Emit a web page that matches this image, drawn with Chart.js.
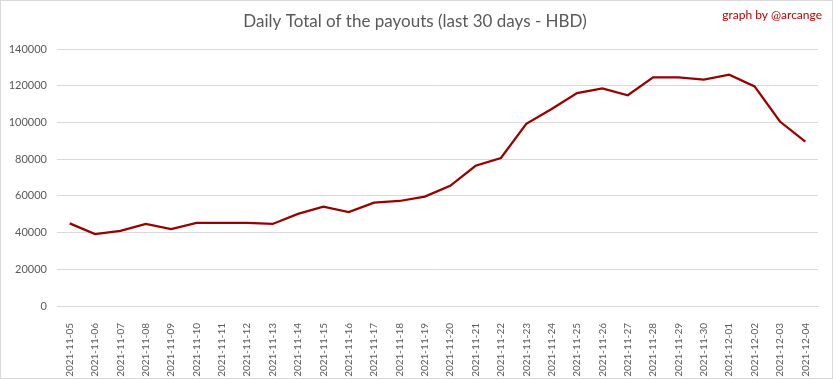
<!doctype html>
<html lang="en">
  <head>
    <meta charset="utf-8">
    <title>Daily Total of the payouts</title>
    <script src="https://cdn.jsdelivr.net/npm/chart.js@4.4.0/dist/chart.umd.min.js"></script>
    <style>
      html, body { margin: 0; padding: 0; background: #fff; }
      #wrap { position: relative; width: 833px; height: 379px; }
    </style>
  </head>
  <body>
    <div id="wrap"><canvas id="chart"></canvas></div>

    <script>
      const days = [
        "2021-11-05", "2021-11-06", "2021-11-07", "2021-11-08", "2021-11-09", "2021-11-10",
        "2021-11-11", "2021-11-12", "2021-11-13", "2021-11-14", "2021-11-15", "2021-11-16",
        "2021-11-17", "2021-11-18", "2021-11-19", "2021-11-20", "2021-11-21", "2021-11-22",
        "2021-11-23", "2021-11-24", "2021-11-25", "2021-11-26", "2021-11-27", "2021-11-28",
        "2021-11-29", "2021-11-30", "2021-12-01", "2021-12-02", "2021-12-03", "2021-12-04"
      ];
      const payouts = [
        45000, 39200, 40900, 44700, 41900, 45300,
        45300, 45300, 44700, 50200, 54100, 51200,
        56300, 57200, 59600, 65500, 76400, 80600,
        99200, 107300, 116000, 118500, 114800, 124500,
        124500, 123300, 126000, 119600, 100500, 89600
      ];
      const yTicks = [0, 20000, 40000, 60000, 80000, 100000, 120000, 140000];

      const titleText = "Daily Total of the payouts (last 30 days - HBD)";
      const creditText = "graph by @arcange";
      const font = "Lato, 'Open Sans', sans-serif";

      // title, credit and outer frame
      const decor = {
        id: "decor",
        afterDraw(chart) {
          const ctx = chart.ctx;
          ctx.save();
          ctx.strokeStyle = "#d9d9d9";
          ctx.lineWidth = 1;
          ctx.strokeRect(0.5, 0.5, chart.width - 1, chart.height - 1);
          ctx.textBaseline = "middle";
          ctx.fillStyle = "#595959";
          ctx.font = "17px " + font;
          ctx.textAlign = "center";
          ctx.fillText(titleText, 415, 22);
          ctx.fillStyle = "#c00000";
          ctx.font = "12px " + font;
          ctx.textAlign = "right";
          ctx.fillText(creditText, 822, 15);
          ctx.restore();
        }
      };

      new Chart(document.getElementById("chart").getContext("2d"), {
        type: "line",
        data: {
          labels: days,
          datasets: [{
            label: "Payouts",
            data: payouts,
            borderColor: "#990000",
            borderWidth: 2.25,
            pointRadius: 0,
            tension: 0,
            fill: false
          }]
        },
        options: {
          responsive: true,
          maintainAspectRatio: false,
          animation: false,
          layout: { padding: { top: 49, right: 15, left: 0, bottom: 0 } },
          plugins: {
            legend: { display: false },
            title: { display: false },
            tooltip: { enabled: false }
          },
          scales: {
            x: {
              offset: true,
              grid: { display: false },
              border: { display: true, color: "#d9d9d9", width: 1 },
              ticks: {
                minRotation: 90,
                maxRotation: 90,
                autoSkip: false,
                padding: 9,
                color: "#595959",
                font: { family: font, size: 10 }
              },
              afterFit(axis) { axis.height = 73; }
            },
            y: {
              min: 0,
              max: 140000,
              afterBuildTicks(axis) { axis.ticks = yTicks.map(v => ({ value: v })); },
              grid: { color: "#d9d9d9", drawTicks: false },
              border: { display: false },
              ticks: {
                padding: 10,
                color: "#595959",
                font: { family: font, size: 11 },
                callback: v => String(v)
              },
              afterFit(axis) { axis.width = 57; }
            }
          }
        },
        plugins: [decor]
      });
    </script>
  </body>
</html>
